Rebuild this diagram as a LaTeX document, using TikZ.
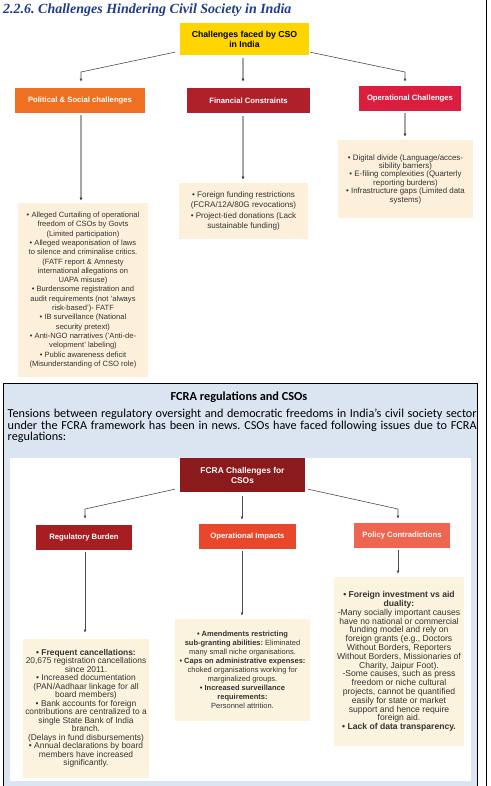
\documentclass[tikz,border=0pt]{standalone}
\usepackage{fontspec}
\setmainfont{Liberation Sans}
\newfontfamily\titlefont{Liberation Serif}
\newfontfamily\calfont{Carlito}
\usetikzlibrary{arrows.meta}
\frenchspacing
\definecolor{titleblue}{HTML}{1F3C88}
\definecolor{csoyellow}{HTML}{FFD500}
\definecolor{polorange}{HTML}{F07022}
\definecolor{findred}{HTML}{B0202A}
\definecolor{opscrimson}{HTML}{DC1E3E}
\definecolor{peach}{HTML}{FDF0DA}
\definecolor{cream}{HTML}{FCF3DF}
\definecolor{lightblue}{HTML}{DBE5F1}
\definecolor{fcramaroon}{HTML}{8B1A1C}
\definecolor{regred}{HTML}{A61E22}
\definecolor{opiorange}{HTML}{E8472B}
\definecolor{pcsalmon}{HTML}{EE6651}
\definecolor{txtgray}{HTML}{333333}
\tikzset{
  hdr/.style={draw=none, text=white, font=\fontsize{7.7}{9.5}\selectfont\bfseries, align=center, inner sep=0pt},
  txtbox/.style={fill=peach, draw=none, text=txtgray, align=center, inner sep=0pt},
  crbox/.style={fill=cream, draw=none, text=txtgray, align=center, inner sep=0pt},
  diag/.style={draw=black!70, line width=0.6pt, -{Latex[length=3.2pt,width=3pt]}},
  varr/.style={draw=black!35, line width=1.3pt, -{Latex[length=3.2pt,width=3pt,color=black!80]}},
  thin/.style={draw=black!70, line width=0.6pt, -{Latex[length=3.2pt,width=3pt]}}
}
\begin{document}
\begin{tikzpicture}[x=1pt,y=-1pt]
\useasboundingbox (0,0) rectangle (490,786);
\fill[white] (0,0) rectangle (490,786);
% page edge line
\draw[black, line width=0.8pt] (486,0) -- (486,786);
% title
\node[anchor=west, text=titleblue, font=\fontsize{14}{15}\selectfont\titlefont\bfseries\itshape, inner sep=0pt] (title) at (3,10) {2.2.6. Challenges Hindering Civil Society in India};

% top diagram
\node[fill=csoyellow, minimum width=129pt, minimum height=32pt, font=\fontsize{8.7}{10}\selectfont\bfseries, align=center, inner sep=0pt] (cso) at (244.5,39) {Challenges faced by CSO\\in India};
\node[hdr, fill=polorange, minimum width=130pt, minimum height=25pt] (pol) at (80,100.5) {Political \& Social challenges};
\node[hdr, fill=findred, minimum width=123pt, minimum height=25pt] (fin) at (248.5,100.5) {Financial Constraints};
\node[hdr, fill=opscrimson, minimum width=102pt, minimum height=25pt] (ops) at (410,98.5) {Operational Challenges};

\node[txtbox, font=\fontsize{7.6}{9.3}\selectfont, minimum width=130pt, minimum height=174pt] (poltxt) at (83,290) {%
• Alleged Curtailing of operational\\freedom of CSOs by Govts\\(Limited participation)\\
• Alleged weaponisation of laws\\to silence and criminalise critics.\\(FATF report \& Amnesty\\international allegations on\\UAPA misuse)\\
• Burdensome registration and\\audit requirements (not 'always\\risk-based')- FATF\\
• IB surveillance (National\\security pretext)\\
• Anti-NGO narratives ('Anti-de-\\velopment' labeling)\\
• Public awareness deficit\\(Misunderstanding of CSO role)};
\node[txtbox, font=\fontsize{8.1}{10.3}\selectfont, minimum width=129pt, minimum height=56pt] (fintxt) at (243.5,211) {%
• Foreign funding restrictions\\(FCRA/12A/80G revocations)\\
• Project-tied donations (Lack\\sustainable funding)};
\node[txtbox, font=\fontsize{7.9}{8.4}\selectfont, minimum width=135pt, minimum height=78pt] (opstxt) at (405.5,179) {%
• Digital divide (Language/acces-\\sibility barriers)\\
• E-filing complexities (Quarterly\\reporting burdens)\\
• Infrastructure gaps (Limited data\\systems)};

\coordinate (tb1) at (81,72);
\coordinate (tb3) at (405,72);
\draw[diag] ([xshift=-5pt,yshift=3pt]cso.south west) -- (tb1) -- ([xshift=1pt,yshift=6pt]pol.north);
\draw[varr] ([xshift=-1.5pt,yshift=-3pt]cso.south) -- ([xshift=-5.5pt,yshift=6pt]fin.north);
\draw[diag] ([xshift=1pt,yshift=3pt]cso.south east) -- (tb3) -- ([xshift=-5pt,yshift=4pt]ops.north);
\draw[varr] ([xshift=1pt,yshift=-2pt]pol.south) -- ([xshift=-2pt,yshift=2pt]poltxt.north);
\draw[varr] ([xshift=-5.5pt,yshift=-3pt]fin.south) -- ([xshift=-0.5pt,yshift=3pt]fintxt.north);
\draw[varr] ([xshift=-5pt,yshift=-2pt]ops.south) -- ([xshift=-0.5pt,yshift=3pt]opstxt.north);

% lower section frame
\draw[black, line width=1pt, fill=lightblue] (3,383) rectangle (477,792);
\node[font=\fontsize{12.3}{14}\selectfont\calfont\bfseries, inner sep=0pt] (fcrahead) at (239,397) {FCRA regulations and CSOs};
\node[anchor=north west, text width=469pt, align=justify, font=\fontsize{12.2}{11.5}\selectfont\calfont, inner sep=0pt] (para) at (7.5,409) {Tensions between regulatory oversight and democratic freedoms in India’s civil society sector\linebreak under the FCRA framework has been in news. CSOs have faced following issues due to FCRA\linebreak regulations:};
\fill[white] (10,458) rectangle (471,781);

\node[hdr, font=\fontsize{8.4}{10}\selectfont\bfseries, fill=fcramaroon, minimum width=125pt, minimum height=34pt] (fcra) at (242.5,475) {FCRA Challenges for\\CSOs};
\node[hdr, fill=regred, minimum width=96pt, minimum height=25pt] (reg) at (84,537.5) {Regulatory Burden};
\node[hdr, fill=opiorange, minimum width=97pt, minimum height=25pt] (opi) at (247.5,536.5) {Operational Impacts};
\node[hdr, fill=pcsalmon, minimum width=96pt, minimum height=25pt] (pc) at (402,535.5) {Policy Contradictions};

\node[crbox, font=\fontsize{8.4}{8.5}\selectfont, minimum width=126pt, minimum height=139pt] (regtxt) at (86,708.5) {%
\textbf{• Frequent cancellations:}\\20,675 registration cancellations\\since 2011.\\
• Increased documentation\\(PAN/Aadhaar linkage for all\\board members)\\
• Bank accounts for foreign\\contributions are centralized to a\\single State Bank of India\\branch.\\(Delays in fund disbursements)\\
• Annual declarations by board\\members have increased\\significantly.};
\node[crbox, font=\fontsize{7.5}{9}\selectfont, minimum width=135pt, minimum height=102pt] (opitxt) at (242.5,670) {%
\textbf{• Amendments restricting}\\\textbf{sub-granting abilities:} Eliminated\\many small niche organisations.\\
\textbf{• Caps on administrative expenses:}\\choked organisations working for\\marginalized groups.\\
\textbf{• Increased surveillance}\\\textbf{requirements:}\\Personnel attrition.};
\node[crbox, font=\fontsize{8.6}{8.8}\selectfont, minimum width=130pt, minimum height=169pt] (pctxt) at (399,661.5) {%
\textbf{• Foreign investment vs aid}\\\textbf{duality:}\\-Many socially important causes\\have no national or commercial\\funding model and rely on\\foreign grants (e.g., Doctors\\Without Borders, Reporters\\Without Borders, Missionaries of\\Charity, Jaipur Foot).\\
-Some causes, such as press\\freedom or niche cultural\\projects, cannot be quantified\\easily for state or market\\support and hence require\\foreign aid.\\
\textbf{• Lack of data transparency.}};

\coordinate (lb1) at (85,509);
\coordinate (lb3) at (398,509);
\draw[thin] ([xshift=-5pt,yshift=3pt]fcra.south west) -- (lb1) -- ([xshift=1pt,yshift=6pt]reg.north);
\draw[thin] ([xshift=-0.5pt,yshift=-4pt]fcra.south) -- ([xshift=-5.5pt,yshift=4pt]opi.north);
\draw[thin] ([xshift=3pt,yshift=3pt]fcra.south east) -- (lb3) -- ([xshift=-4pt,yshift=4pt]pc.north);
\draw[thin] ([xshift=1pt,yshift=-2pt]reg.south) -- ([xshift=-1pt,yshift=6pt]regtxt.north);
\draw[thin] ([xshift=-5.5pt,yshift=-2pt]opi.south) -- ([xshift=-0.5pt,yshift=3pt]opitxt.north);
\draw[thin] ([xshift=-4pt,yshift=-2pt]pc.south) -- ([xshift=-1pt,yshift=3pt]pctxt.north);
\end{tikzpicture}
\end{document}
